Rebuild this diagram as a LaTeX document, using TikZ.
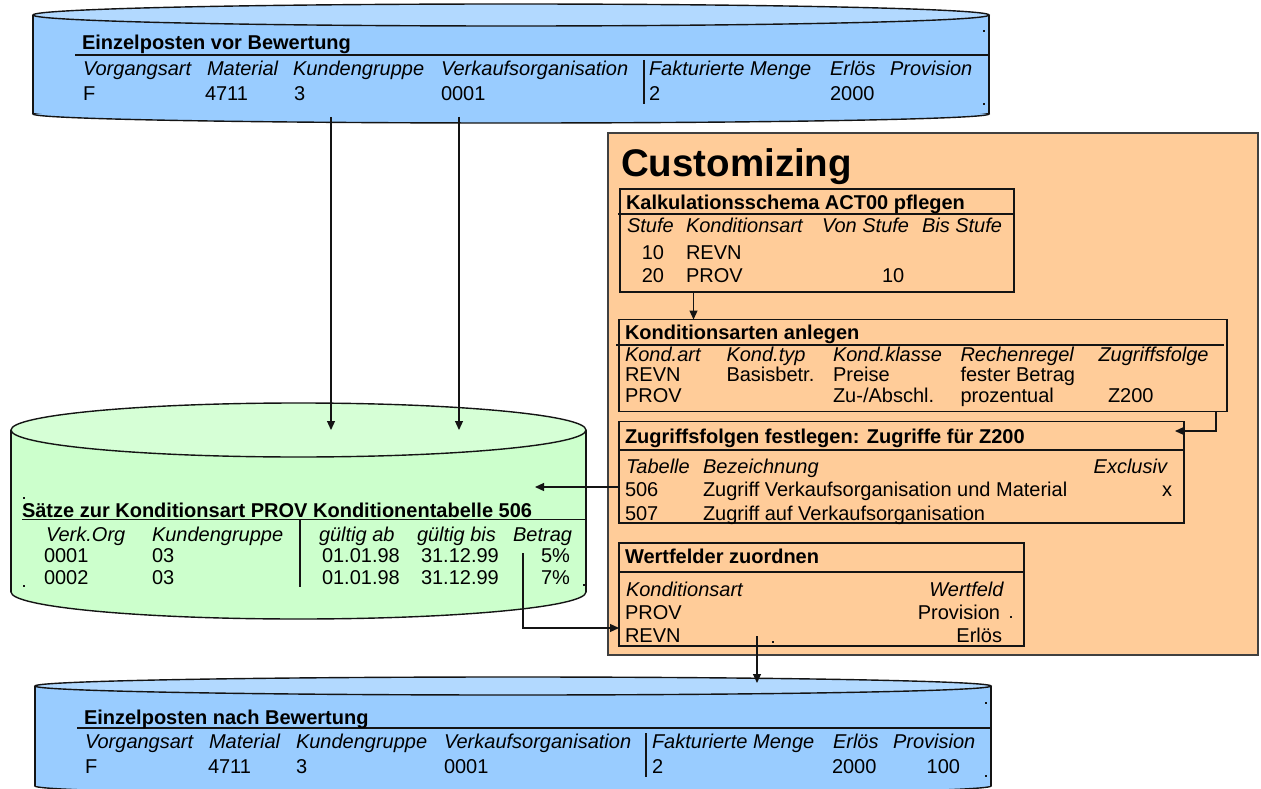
\documentclass[tikz,border=0pt]{standalone}
\usepackage{fontspec}
\setmainfont{Liberation Sans}
\usetikzlibrary{arrows.meta}
\definecolor{cylblue}{RGB}{153,204,255}
\definecolor{cylbluetop}{RGB}{178,217,255}
\definecolor{cylgreen}{RGB}{204,255,204}
\definecolor{cylgreentop}{RGB}{214,255,214}
\definecolor{custfill}{RGB}{255,204,153}
\definecolor{custframe}{RGB}{64,64,64}
\definecolor{inkline}{RGB}{20,20,20}

\begin{document}
\begin{tikzpicture}[x=1pt,y=-1pt,
  txt/.style={anchor=base west,inner sep=0pt,outer sep=0pt,font=\fontsize{20}{24}\selectfont},
  rtxt/.style={txt,anchor=base east},
  hdr/.style={txt,font=\fontsize{20}{24}\selectfont\itshape},
  rhdr/.style={hdr,anchor=base east},
  ttl/.style={txt,font=\fontsize{20}{24}\selectfont\bfseries},
  bigttl/.style={txt,font=\fontsize{38.5}{44}\selectfont\bfseries},
  cylline/.style={draw=inkline,line width=1.4pt},
  rule/.style={draw=inkline,line width=2pt},
  colbar/.style={draw=inkline,line width=1.4pt},
  panel/.style={draw=custframe,line width=2pt,fill=custfill,anchor=north west,inner sep=0pt,outer sep=0pt},
  stepbox/.style={draw=inkline,line width=1.3pt,fill=custfill,anchor=north west,inner sep=0pt,outer sep=0pt},
  sep/.style={draw=inkline,line width=1.3pt},
  arr/.style={draw=inkline,line width=1.2pt,-{Triangle[length=9pt,width=8pt]}},
  speck/.style={fill=inkline}]
\useasboundingbox (0,0) rectangle (1261,789);

% ---------- upper cylinder: Einzelposten vor Bewertung ----------
\fill[cylblue] (33,15) rectangle (989,114);
\fill[cylblue] (511,114) ellipse [x radius=478pt, y radius=9pt];
\begin{scope}
  \clip (28,114) rectangle (994,130);
  \draw[cylline] (511,114) ellipse [x radius=478pt, y radius=9pt];
\end{scope}
\draw[cylline] (33,15) -- (33,114) (989,15) -- (989,114);
\filldraw[cylline,fill=cylbluetop] (511,15) ellipse [x radius=478pt, y radius=11pt];

\draw[rule] (75,55.5) -- (989,55.5);
\draw[colbar] (644,60) -- (644,104);
\fill[speck] (983,30) rectangle ++(2,2);
\fill[speck] (983,103) rectangle ++(2,2);

\node[ttl] (vtitle) at (82,50) {Einzelposten vor Bewertung};
\node[hdr] (vh1) at (83,76) {Vorgangsart};
\node[hdr] (vh2) at (207,76) {Material};
\node[hdr] (vh3) at (293,76) {Kundengruppe};
\node[hdr] (vh4) at (441,76) {Verkaufsorganisation};
\node[hdr] (vh5) at (649,76) {Fakturierte Menge};
\node[hdr] (vh6) at (830,76) {Erlös};
\node[hdr] (vh7) at (890,76) {Provision};
\node[txt] (vv1) at (83,100.5) {F};
\node[txt] (vv2) at (205,100.5) {4711};
\node[txt] (vv3) at (294,100.5) {3};
\node[txt] (vv4) at (441,100.5) {0001};
\node[txt] (vv5) at (649,100.5) {2};
\node[txt] (vv6) at (830,100.5) {2000};

% ---------- middle cylinder: condition records ----------
\fill[cylgreen] (11,430) rectangle (586,592);
\fill[cylgreen] (298.5,592) ellipse [x radius=287.5pt, y radius=27pt];
\begin{scope}
  \clip (6,592) rectangle (591,625);
  \draw[cylline] (298.5,592) ellipse [x radius=287.5pt, y radius=27pt];
\end{scope}
\draw[cylline] (11,430) -- (11,592) (586,430) -- (586,592);
\filldraw[cylline,fill=cylgreentop] (298.5,430) ellipse [x radius=287.5pt, y radius=27pt];

\draw[sep] (22,519.5) -- (586,519.5);
\draw[colbar] (300,519.5) -- (300,587);
\fill[speck] (23,497) rectangle ++(1.6,1.6);
\fill[speck] (23,585) rectangle ++(1.6,1.6);
\fill[speck] (583,584) rectangle ++(1.6,1.6);

\node[ttl] (ktitle) at (22,517) {Sätze zur Konditionsart PROV Konditionentabelle 506};
\node[hdr] (kh1) at (46,541) {Verk.Org};
\node[hdr] (kh2) at (152,541) {Kundengruppe};
\node[hdr] (kh3) at (319,541) {gültig ab};
\node[hdr] (kh4) at (417,541) {gültig bis};
\node[rhdr] (kh5) at (572,541) {Betrag};
\node[txt] (ka1) at (44,562.5) {0001};
\node[txt] (ka2) at (152,562.5) {03};
\node[txt] (ka3) at (322,562.5) {01.01.98};
\node[txt] (ka4) at (421,562.5) {31.12.99};
\node[rtxt] (ka5) at (570,562.5) {5\%};
\node[txt] (kb1) at (44,584.5) {0002};
\node[txt] (kb2) at (152,584.5) {03};
\node[txt] (kb3) at (322,584.5) {01.01.98};
\node[txt] (kb4) at (421,584.5) {31.12.99};
\node[rtxt] (kb5) at (570,584.5) {7\%};

% ---------- lower cylinder: Einzelposten nach Bewertung ----------
\fill[cylblue] (35,686) rectangle (991,786);
\fill[cylblue] (513,786) ellipse [x radius=478pt, y radius=9pt];
\begin{scope}
  \clip (30,786) rectangle (996,800);
  \draw[cylline] (513,786) ellipse [x radius=478pt, y radius=9pt];
\end{scope}
\draw[cylline] (35,686) -- (35,786) (991,686) -- (991,786);
\filldraw[cylline,fill=cylbluetop] (513,686) ellipse [x radius=478pt, y radius=9pt];

\draw[rule] (77,727.5) -- (991,727.5);
\draw[colbar] (646,733) -- (646,777);
\fill[speck] (985,702) rectangle ++(2,2);
\fill[speck] (985,775) rectangle ++(2,2);

\node[ttl] (ntitle) at (84,724) {Einzelposten nach Bewertung};
\node[hdr] (nh1) at (85,748.5) {Vorgangsart};
\node[hdr] (nh2) at (209,748.5) {Material};
\node[hdr] (nh3) at (296,748.5) {Kundengruppe};
\node[hdr] (nh4) at (444,748.5) {Verkaufsorganisation};
\node[hdr] (nh5) at (652,748.5) {Fakturierte Menge};
\node[hdr] (nh6) at (833,748.5) {Erlös};
\node[hdr] (nh7) at (893,748.5) {Provision};
\node[txt] (nv1) at (85,773) {F};
\node[txt] (nv2) at (208,773) {4711};
\node[txt] (nv3) at (296,773) {3};
\node[txt] (nv4) at (444,773) {0001};
\node[txt] (nv5) at (652,773) {2};
\node[txt] (nv6) at (832,773) {2000};
\node[rtxt] (nv7) at (960,773) {100};

% ---------- Customizing panel ----------
\node[panel,minimum width=650pt,minimum height=522pt] (cust) at (608,133) {};
\node[bigttl] (custtitle) at (621,176) {Customizing};

% step 1: Kalkulationsschema
\node[stepbox,minimum width=394pt,minimum height=103pt] (kalk) at (620,189) {};
\draw[sep] (618,214) -- (kalk.east |- 0,214);
\node[ttl] (kalkt) at (626,209.5) {Kalkulationsschema ACT00 pflegen};
\node[hdr] (kalkh1) at (627,232) {Stufe};
\node[hdr] (kalkh2) at (686,232) {Konditionsart};
\node[hdr] (kalkh3) at (822,232) {Von Stufe};
\node[hdr] (kalkh4) at (922,232) {Bis Stufe};
\node[rtxt] (kalka1) at (664,259) {10};
\node[txt] (kalka2) at (686,259) {REVN};
\node[rtxt] (kalkb1) at (664,282.5) {20};
\node[txt] (kalkb2) at (686,282.5) {PROV};
\node[txt] (kalkb3) at (882,282.5) {10};

% step 2: Konditionsarten
\node[stepbox,minimum width=608pt,minimum height=92pt] (kond) at (619,319.5) {};
\draw[sep] (616,345) -- (1224,345);
\node[ttl] (kondt) at (625,339.5) {Konditionsarten anlegen};
\node[hdr] (kondh1) at (625,361.5) {Kond.art};
\node[hdr] (kondh2) at (726.5,361.5) {Kond.typ};
\node[hdr] (kondh3) at (833,361.5) {Kond.klasse};
\node[hdr] (kondh4) at (960.5,361.5) {Rechenregel};
\node[hdr] (kondh5) at (1098.5,361.5) {Zugriffsfolge};
\node[txt] (konda1) at (625,381.5) {REVN};
\node[txt] (konda2) at (726.5,381.5) {Basisbetr.};
\node[txt] (konda3) at (833,381.5) {Preise};
\node[txt] (konda4) at (960.5,381.5) {fester Betrag};
\node[txt] (kondb1) at (625,402) {PROV};
\node[txt] (kondb3) at (833,402) {Zu-/Abschl.};
\node[txt] (kondb4) at (960.5,402) {prozentual};
\node[txt] (kondb5) at (1108,402) {Z200};

% step 3: Zugriffsfolgen
\node[stepbox,minimum width=565pt,minimum height=101.5pt] (zug) at (619,421.5) {};
\draw[sep] (zug.west |- 0,450) -- (zug.east |- 0,450);
\node[ttl] (zugt) at (625,443) {Zugriffsfolgen festlegen: Zugriffe für Z200};
\node[hdr] (zugh1) at (626,473) {Tabelle};
\node[hdr] (zugh2) at (703,473) {Bezeichnung};
\node[rhdr] (zugh3) at (1167,473) {Exclusiv};
\node[txt] (zuga1) at (625,496.5) {506};
\node[txt] (zuga2) at (703,496.5) {Zugriff Verkaufsorganisation und Material};
\node[txt] (zuga3) at (1162,496.5) {x};
\node[txt] (zugb1) at (625,520.5) {507};
\node[txt] (zugb2) at (703,520.5) {Zugriff auf Verkaufsorganisation};

% step 4: Wertfelder
\node[stepbox,minimum width=405pt,minimum height=103pt] (wert) at (619,543) {};
\draw[sep] (wert.west |- 0,572) -- (wert.east |- 0,572);
\node[ttl] (wertt) at (625,563) {Wertfelder zuordnen};
\node[hdr] (werth1) at (626,596) {Konditionsart};
\node[rhdr] (werth2) at (1003.5,596) {Wertfeld};
\node[txt] (werta1) at (625,619) {PROV};
\node[rtxt] (werta2) at (1000,619) {Provision};
\node[txt] (wertb1) at (625,642.5) {REVN};
\node[rtxt] (wertb2) at (1002,642.5) {Erlös};
\fill[speck] (1010,616) rectangle ++(1.6,1.6);
\fill[speck] (772,641) rectangle ++(1.6,1.6);

% ---------- connectors ----------
\coordinate (vorA) at (331,117);
\coordinate (vorB) at (459,117);
\coordinate (konA) at (331,430);
\coordinate (konB) at (459,430);
\draw[arr] (vorA) -- (konA);
\draw[arr] (vorB) -- (konB);

\draw[arr] ([xshift=73.5pt]kalk.south west) -- ([xshift=74.5pt]kond.north west);

\coordinate (zugin) at (1175,431);
\draw[arr] ([xshift=-11pt]kond.south east) |- (zugin);

\coordinate (konin) at (535,487);
\draw[arr] (zug.west |- konin) -- (konin);

\coordinate (betragout) at (523,553);
\draw[arr] (betragout) |- ([yshift=-33.5pt]wert.west);

\coordinate (wertout) at (757,636);
\coordinate (nachin) at (757,683);
\draw[arr] (wertout) -- (nachin);
\end{tikzpicture}
\end{document}
